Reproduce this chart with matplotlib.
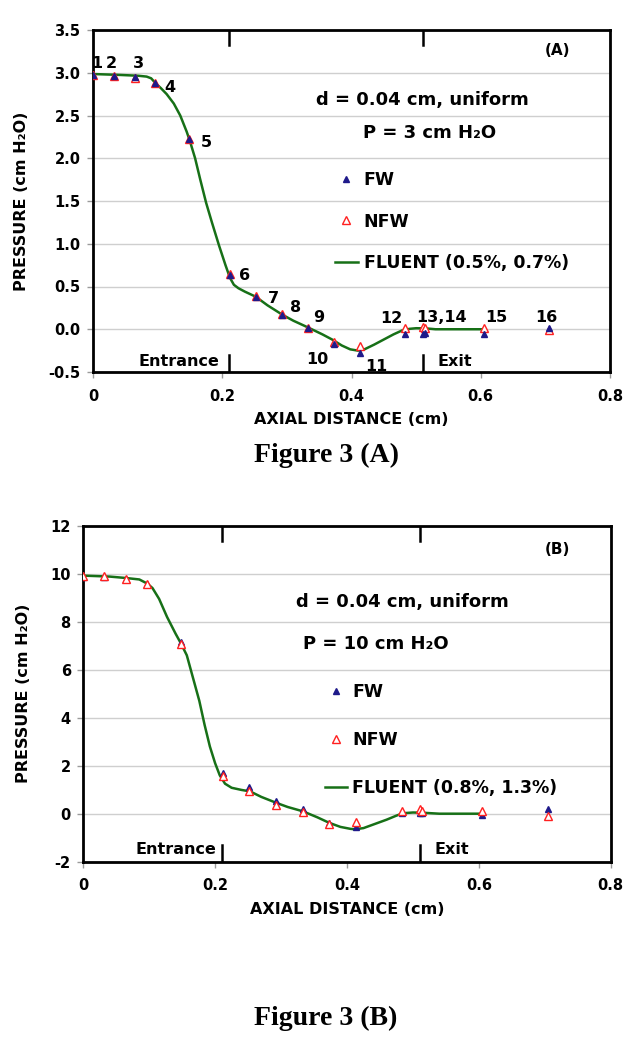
import matplotlib
matplotlib.use("Agg")
import matplotlib.pyplot as plt
from matplotlib.lines import Line2D
from matplotlib.ticker import FormatStrFormatter

plt.rcParams['font.family'] = 'DejaVu Sans'
plt.rcParams['font.weight'] = 'bold'
plt.rcParams['axes.labelweight'] = 'bold'

# Positions des points de mesure le long du canal (cm)
point_x = [0.0, 0.032, 0.0645, 0.0965, 0.1486, 0.2117, 0.252, 0.293,
           0.333, 0.373, 0.413, 0.483, 0.511, 0.514, 0.605, 0.705]

# Figure 3 (A) : P = 3 cm H2O
fw_a = [2.97, 2.96, 2.95, 2.875, 2.22, 0.63, 0.38, 0.17,
        0.01, -0.17, -0.28, -0.05, -0.05, -0.04, -0.05, 0.01]
nfw_a = [2.97, 2.96, 2.94, 2.88, 2.22, 0.65, 0.39, 0.18,
         0.02, -0.15, -0.20, 0.02, 0.03, 0.02, 0.01, -0.01]
fluent_a_x = [0.0, 0.04, 0.07, 0.083, 0.09, 0.0965, 0.105, 0.114, 0.125,
              0.135, 0.145, 0.15, 0.158, 0.166, 0.175, 0.184, 0.195, 0.205,
              0.212, 0.218, 0.225, 0.235, 0.252, 0.27, 0.293, 0.31, 0.333,
              0.355, 0.37, 0.385, 0.398, 0.41, 0.42, 0.435, 0.45, 0.465,
              0.478, 0.49, 0.5, 0.515, 0.53, 0.605]
fluent_a_y = [2.985, 2.975, 2.965, 2.955, 2.935, 2.88, 2.82, 2.75, 2.64,
              2.50, 2.31, 2.20, 2.00, 1.75, 1.48, 1.25, 0.98, 0.75,
              0.60, 0.52, 0.48, 0.44, 0.38, 0.28, 0.17, 0.10, 0.02,
              -0.06, -0.12, -0.19, -0.235, -0.25, -0.235, -0.18, -0.12, -0.06,
              -0.015, 0.005, 0.012, 0.01, 0.0, 0.0]

# Figure 3 (B) : P = 10 cm H2O
fw_b = [9.88, 9.86, 9.78, 9.56, 7.15, 1.71, 1.10, 0.54,
        0.20, -0.38, -0.54, 0.02, 0.02, 0.02, -0.04, 0.19]
nfw_b = [9.92, 9.90, 9.80, 9.56, 7.08, 1.57, 0.96, 0.38,
         0.06, -0.43, -0.33, 0.11, 0.18, 0.10, 0.11, -0.10]
fluent_b_x = [0.0, 0.04, 0.065, 0.085, 0.0976, 0.105, 0.115, 0.127, 0.14,
              0.148, 0.157, 0.167, 0.176, 0.184, 0.192, 0.2, 0.207, 0.215,
              0.225, 0.24, 0.253, 0.27, 0.293, 0.31, 0.333, 0.355, 0.373,
              0.39, 0.405, 0.412, 0.425, 0.44, 0.46, 0.475, 0.485, 0.5,
              0.515, 0.54, 0.605]
fluent_b_y = [9.92, 9.88, 9.82, 9.76, 9.58, 9.40, 8.95, 8.20, 7.50,
              7.10, 6.60, 5.60, 4.70, 3.70, 2.80, 2.10, 1.60, 1.25,
              1.08, 0.99, 0.93, 0.70, 0.45, 0.28, 0.10, -0.15, -0.38,
              -0.55, -0.63, -0.65, -0.60, -0.45, -0.25, -0.08, 0.02, 0.05,
              0.04, 0.0, 0.0]

# Limites entree / sortie du canal (cm)
section_x = [0.21, 0.51]

# Numeros des points (figure A)
point_names = ['1', '2', '3', '4', '5', '6', '7', '8', '9', '10', '11',
               '12', '13,14', '15', '16']

FW_COLOR = '#1f1a8a'
NFW_COLOR = '#ff2020'
LINE_COLOR = '#177017'


def setup_axes(ax, ylim, yticks, yfmt):
    ax.set_xlim(0, 0.8)
    ax.set_ylim(*ylim)
    ax.set_xticks([0, 0.2, 0.4, 0.6, 0.8])
    ax.set_xticklabels(['0', '0.2', '0.4', '0.6', '0.8'])
    ax.set_yticks(yticks)
    ax.yaxis.set_major_formatter(FormatStrFormatter(yfmt))
    ax.yaxis.grid(True, color='#cfcfcf', lw=1)
    ax.set_axisbelow(True)
    for sp in ax.spines.values():
        sp.set_linewidth(2)
        sp.set_color('black')
    ax.tick_params(axis='both', direction='out', length=4, width=1,
                   color='#9a9a9a', labelsize=10.5)
    ax.tick_params(axis='x', pad=8)
    ax.tick_params(axis='y', pad=5)
    ax.set_xlabel('AXIAL DISTANCE (cm)', fontsize=11.5, fontweight='bold',
                  labelpad=6)
    ax.set_ylabel('PRESSURE (cm H₂O)', fontsize=11.5, fontweight='bold',
                  labelpad=14)
    # petits traits entree / sortie en haut et en bas
    for xs in section_x:
        ax.axvline(xs, ymin=0.955, ymax=1, color='black', lw=1.8)
        ax.axvline(xs, ymin=0, ymax=0.05, color='black', lw=1.8)


def draw_panel(ax, fw, nfw, fx, fy, fluent_label, nfw_on_top):
    ax.plot(fx, fy, color=LINE_COLOR, lw=1.8, zorder=2)
    z_fw, z_nfw = (3, 4) if nfw_on_top else (4, 3)
    ax.plot(point_x, nfw, ls='none', marker='^', ms=5.5, mfc='white',
            mec=NFW_COLOR, mew=1, zorder=z_nfw)
    ax.plot(point_x, fw, ls='none', marker='^', ms=4.5, mfc=FW_COLOR,
            mec=FW_COLOR, zorder=z_fw)
    handles = [
        Line2D([], [], ls='none', marker='^', ms=4.5, mfc=FW_COLOR, mec=FW_COLOR),
        Line2D([], [], ls='none', marker='^', ms=5.5, mfc='white',
               mec=NFW_COLOR, mew=1),
        Line2D([], [], color=LINE_COLOR, lw=1.8),
    ]
    return handles, ['FW', 'NFW', fluent_label]


fig = plt.figure(figsize=(6.32, 10.5), dpi=100)

# ---------------- Figure 3 (A) ----------------
ax_a = fig.add_axes([93 / 632, 1 - 372 / 1050, 517 / 632, 342 / 1050])
setup_axes(ax_a, (-0.5, 3.5), [-0.5, 0, 0.5, 1, 1.5, 2, 2.5, 3, 3.5], '%.1f')
h, l = draw_panel(ax_a, fw_a, nfw_a, fluent_a_x, fluent_a_y,
                  'FLUENT (0.5%, 0.7%)', nfw_on_top=False)
ax_a.legend(h, l, loc='upper left', bbox_to_anchor=(0.468, 0.588),
            frameon=False, fontsize=12.5, borderpad=0, borderaxespad=0,
            labelspacing=1.36, handlelength=1.3, handletextpad=0.35)

ax_a.text(0.718, 3.266, '(A)', fontsize=11, ha='center', va='center')
ax_a.text(0.509, 2.68, 'd = 0.04 cm, uniform', fontsize=13,
          ha='center', va='center')
ax_a.text(0.521, 2.295, 'P = 3 cm H₂O', fontsize=13, ha='center', va='center')

# numeros des points
label_pos = [(0.006, 3.114), (0.029, 3.114), (0.071, 3.114), (0.119, 2.83),
             (0.175, 2.19), (0.234, 0.634), (0.279, 0.354), (0.314, 0.249),
             (0.349, 0.143), (0.347, -0.348), (0.439, -0.43), (0.461, 0.12),
             (0.539, 0.143), (0.624, 0.143), (0.701, 0.143)]
for name, (tx, ty) in zip(point_names, label_pos):
    ax_a.text(tx, ty, name, fontsize=11.5, ha='center', va='center',
              clip_on=False, zorder=1)

ax_a.text(0.196, -0.383, 'Entrance', fontsize=11.5, ha='right', va='center')
ax_a.text(0.533, -0.383, 'Exit', fontsize=11.5, ha='left', va='center')

# ---------------- Figure 3 (B) ----------------
ax_b = fig.add_axes([83.3 / 632, 1 - 861.7 / 1050, 527.4 / 632, 336 / 1050])
setup_axes(ax_b, (-2, 12), [-2, 0, 2, 4, 6, 8, 10, 12], '%d')
h, l = draw_panel(ax_b, fw_b, nfw_b, fluent_b_x, fluent_b_y,
                  'FLUENT (0.8%, 1.3%)', nfw_on_top=True)
ax_b.legend(h, l, loc='upper left', bbox_to_anchor=(0.4575, 0.533),
            frameon=False, fontsize=12.5, borderpad=0, borderaxespad=0,
            labelspacing=1.75, handlelength=1.3, handletextpad=0.3)

ax_b.text(0.7186, 10.99, '(B)', fontsize=11, ha='center', va='center')
ax_b.text(0.4835, 8.833, 'd = 0.04 cm, uniform', fontsize=13,
          ha='center', va='center')
ax_b.text(0.443, 7.07, 'P = 10 cm H₂O', fontsize=13, ha='center', va='center')

ax_b.text(0.202, -1.48, 'Entrance', fontsize=11.5, ha='right', va='center')
ax_b.text(0.532, -1.48, 'Exit', fontsize=11.5, ha='left', va='center')

# legendes des figures
fig.text(326 / 632, 1 - 455 / 1050, 'Figure 3 (A)', family='Liberation Serif',
         fontsize=20, fontweight='bold', ha='center', va='center')
fig.text(326 / 632, 1 - 1018 / 1050, 'Figure 3 (B)', family='Liberation Serif',
         fontsize=20, fontweight='bold', ha='center', va='center')

fig.savefig('out.png', dpi=100)
